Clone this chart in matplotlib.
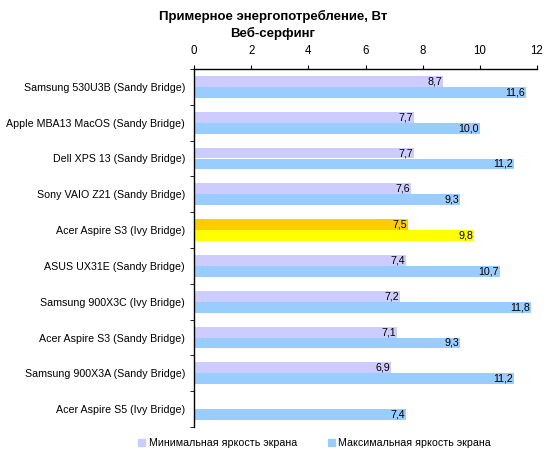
import matplotlib
matplotlib.use("Agg")
import matplotlib.pyplot as plt
import numpy as np
from matplotlib.patches import Patch

plt.rcParams['font.family'] = ['Liberation Sans', 'DejaVu Sans']

categories = ["Samsung 530U3B (Sandy Bridge)", "Apple MBA13 MacOS (Sandy Bridge)",
              "Dell XPS 13 (Sandy Bridge)", "Sony VAIO Z21 (Sandy Bridge)",
              "Acer Aspire S3 (Ivy Bridge)", "ASUS UX31E (Sandy Bridge)",
              "Samsung 900X3C (Ivy Bridge)", "Acer Aspire S3 (Sandy Bridge)",
              "Samsung 900X3A (Sandy Bridge)", "Acer Aspire S5 (Ivy Bridge)"]
min_vals = [8.7, 7.7, 7.7, 7.6, 7.5, 7.4, 7.2, 7.1, 6.9, None]
max_vals = [11.6, 10.0, 11.2, 9.3, 9.8, 10.7, 11.8, 9.3, 11.2, 7.4]
series_names = ["Минимальная яркость экрана", "Максимальная яркость экрана"]
highlight = "Acer Aspire S3 (Ivy Bridge)"
xticks = [0, 2, 4, 6, 8, 10, 12]

c_min, c_max = "#CCCCFF", "#99CCFF"
c_min_h, c_max_h = "#FFCC00", "#FFFF00"

fs = 7.7
fig = plt.figure(figsize=(5.5, 4.58), dpi=100)
ax = fig.add_axes([194/550, 1 - 427/458, (537-194)/550, (427-69)/458])

n = len(categories)
y = np.arange(n)
h = 0.305
for i, cat in enumerate(categories):
    hl = cat == highlight
    if min_vals[i] is not None:
        ax.barh(y[i] - h/2, min_vals[i], height=h, color=c_min_h if hl else c_min)
        ax.text(min_vals[i] - 0.03, y[i] - h/2, f"{min_vals[i]:.1f}".replace('.', ','),
                ha='right', va='center', fontsize=fs)
    ax.barh(y[i] + h/2, max_vals[i], height=h, color=c_max_h if hl else c_max)
    ax.text(max_vals[i] - 0.03, y[i] + h/2, f"{max_vals[i]:.1f}".replace('.', ','),
            ha='right', va='center', fontsize=fs)

ax.set_ylim(n - 0.5, -0.5)
ax.set_xlim(0, 12)
ax.set_yticks(y)
ax.set_yticklabels(categories, fontsize=fs)
ax.set_yticks(np.arange(-0.5, n, 1), minor=True)
ax.tick_params(axis='y', which='major', length=0, pad=6.5)
ax.tick_params(axis='y', which='minor', length=3, direction='out')
ax.xaxis.tick_top()
ax.set_xticks(xticks)
ax.set_xticklabels([str(t) for t in xticks], fontsize=8.3)
ax.tick_params(axis='x', length=3, direction='out', pad=5.8)
for s in ['right', 'bottom']:
    ax.spines[s].set_visible(False)
for s in ['left', 'top']:
    ax.spines[s].set_linewidth(1)

fig.text(273/550, 1 - 16/458, "Примерное энергопотребление, Вт",
         ha='center', va='center', fontsize=9.5, fontweight='bold')
fig.text(273/550, 1 - 33/458, "Веб-серфинг",
         ha='center', va='center', fontsize=9.5, fontweight='bold')

handles = [Patch(color=c_min), Patch(color=c_max)]
fig.legend(handles, series_names, loc='center', bbox_to_anchor=(0.572, 1 - 443/458),
           ncol=2, frameon=False, fontsize=fs, handlelength=0.65, handleheight=0.65,
           columnspacing=2.9, handletextpad=0.3)

fig.savefig("out.png", dpi=100)
